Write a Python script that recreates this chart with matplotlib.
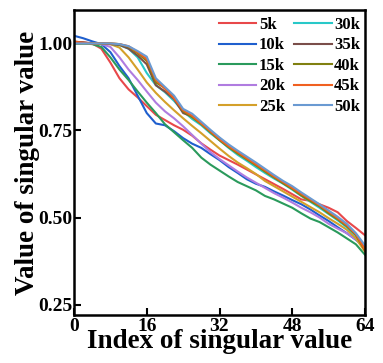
import matplotlib
matplotlib.use("Agg")
import matplotlib.pyplot as plt

plt.rcParams['font.family'] = ['Liberation Serif', 'DejaVu Serif']
plt.rcParams['font.weight'] = 'bold'

x = list(range(0, 65, 2))

labels = ['5k', '10k', '15k', '20k', '25k', '30k', '35k', '40k', '45k', '50k']
colors = ['#e8484a', '#1f5fce', '#2a9a5c', '#b07ce0', '#d4a02a',
          '#28c8c8', '#7a4e4a', '#808010', '#f06020', '#6a9ad2']

s5k = [1.005, 1.003, 1.000, 0.985, 0.945, 0.900, 0.868, 0.845, 0.820, 0.795, 0.780,
       0.765, 0.752, 0.735, 0.713, 0.695, 0.678, 0.665, 0.652, 0.638, 0.624, 0.610,
       0.596, 0.582, 0.567, 0.552, 0.548, 0.538, 0.528, 0.515, 0.490, 0.470, 0.449]
s10k = [1.022, 1.015, 1.006, 0.998, 0.975, 0.935, 0.900, 0.850, 0.800, 0.770, 0.765,
        0.748, 0.728, 0.712, 0.700, 0.682, 0.665, 0.645, 0.628, 0.610, 0.597, 0.588,
        0.575, 0.563, 0.550, 0.538, 0.523, 0.506, 0.490, 0.472, 0.455, 0.436, 0.415]
s15k = [1.000, 1.000, 0.998, 0.990, 0.960, 0.925, 0.895, 0.862, 0.830, 0.800, 0.768,
        0.745, 0.722, 0.700, 0.672, 0.652, 0.635, 0.618, 0.602, 0.590, 0.578, 0.562,
        0.552, 0.540, 0.528, 0.512, 0.497, 0.487, 0.472, 0.457, 0.440, 0.423, 0.393]
s20k = [1.000, 1.000, 1.000, 0.998, 0.990, 0.960, 0.925, 0.895, 0.862, 0.830, 0.805,
        0.785, 0.762, 0.737, 0.712, 0.688, 0.668, 0.650, 0.632, 0.615, 0.600, 0.585,
        0.570, 0.557, 0.543, 0.528, 0.515, 0.500, 0.482, 0.468, 0.455, 0.437, 0.412]
s25k = [1.000, 1.000, 1.000, 1.000, 0.998, 0.988, 0.960, 0.925, 0.888, 0.858, 0.832,
        0.808, 0.785, 0.763, 0.742, 0.720, 0.698, 0.677, 0.658, 0.642, 0.625, 0.605,
        0.590, 0.575, 0.560, 0.545, 0.530, 0.515, 0.498, 0.482, 0.465, 0.440, 0.402]
s30k = [1.000, 1.000, 1.000, 1.000, 0.999, 0.995, 0.985, 0.960, 0.915, 0.880, 0.860,
        0.835, 0.805, 0.783, 0.765, 0.742, 0.722, 0.700, 0.680, 0.663, 0.645, 0.628,
        0.612, 0.597, 0.580, 0.562, 0.545, 0.528, 0.510, 0.492, 0.472, 0.448, 0.412]
s35k = [1.005, 1.003, 1.000, 1.000, 0.998, 0.996, 0.985, 0.965, 0.940, 0.880, 0.862,
        0.840, 0.800, 0.790, 0.772, 0.748, 0.728, 0.705, 0.686, 0.670, 0.652, 0.635,
        0.618, 0.600, 0.585, 0.567, 0.550, 0.535, 0.515, 0.497, 0.477, 0.450, 0.410]
s40k = [1.000, 1.000, 1.000, 1.000, 1.000, 0.998, 0.990, 0.972, 0.950, 0.888, 0.872,
        0.845, 0.805, 0.788, 0.768, 0.745, 0.722, 0.702, 0.684, 0.667, 0.650, 0.632,
        0.615, 0.598, 0.582, 0.563, 0.547, 0.532, 0.512, 0.495, 0.475, 0.450, 0.405]
s45k = [1.005, 1.002, 1.000, 1.000, 1.000, 0.998, 0.992, 0.975, 0.955, 0.895, 0.870,
        0.842, 0.808, 0.792, 0.770, 0.748, 0.725, 0.705, 0.688, 0.670, 0.653, 0.636,
        0.618, 0.602, 0.585, 0.568, 0.552, 0.535, 0.517, 0.498, 0.478, 0.452, 0.408]
s50k = [1.000, 1.000, 1.000, 1.000, 1.000, 0.998, 0.992, 0.978, 0.962, 0.900, 0.875,
        0.850, 0.812, 0.798, 0.775, 0.752, 0.730, 0.710, 0.692, 0.675, 0.658, 0.640,
        0.622, 0.605, 0.590, 0.572, 0.555, 0.538, 0.520, 0.502, 0.482, 0.455, 0.420]

series = [s5k, s10k, s15k, s20k, s25k, s30k, s35k, s40k, s45k, s50k]

xticks = [0, 16, 32, 48, 64]
yticks = [0.25, 0.50, 0.75, 1.00]

fig = plt.figure(figsize=(3.83, 3.63), dpi=100)
ax = fig.add_axes([74/383, 1 - 315/363, 291/383, 305/363])

for ys, lab, c in zip(series, labels, colors):
    ax.plot(x, ys, color=c, lw=1.5, label=lab)

ax.set_xlim(0, 64)
ax.set_ylim(0.22, 1.096)
ax.set_xticks(xticks)
ax.set_yticks(yticks)
ax.set_yticklabels([f"{v:.2f}" for v in yticks])
ax.tick_params(direction='in', length=5, width=1.5, labelsize=14, pad=2)
ax.tick_params(axis='y', pad=1)
for sp in ax.spines.values():
    sp.set_linewidth(1.8)

ax.set_xlabel('Index of singular value', fontsize=19.5, fontweight='bold')
ax.set_ylabel('Value of singular value', fontsize=19.5, fontweight='bold')
ax.xaxis.set_label_coords(0.5, -0.045)
ax.yaxis.set_label_coords(-0.118, 0.5)

ax.legend(ncol=2, loc='upper right', bbox_to_anchor=(1.018, 1.01), frameon=False,
          fontsize=12, handlelength=2.25, handletextpad=0.15, columnspacing=0.55,
          labelspacing=0.27, borderaxespad=0.2)

fig.savefig('out.png', dpi=100)
